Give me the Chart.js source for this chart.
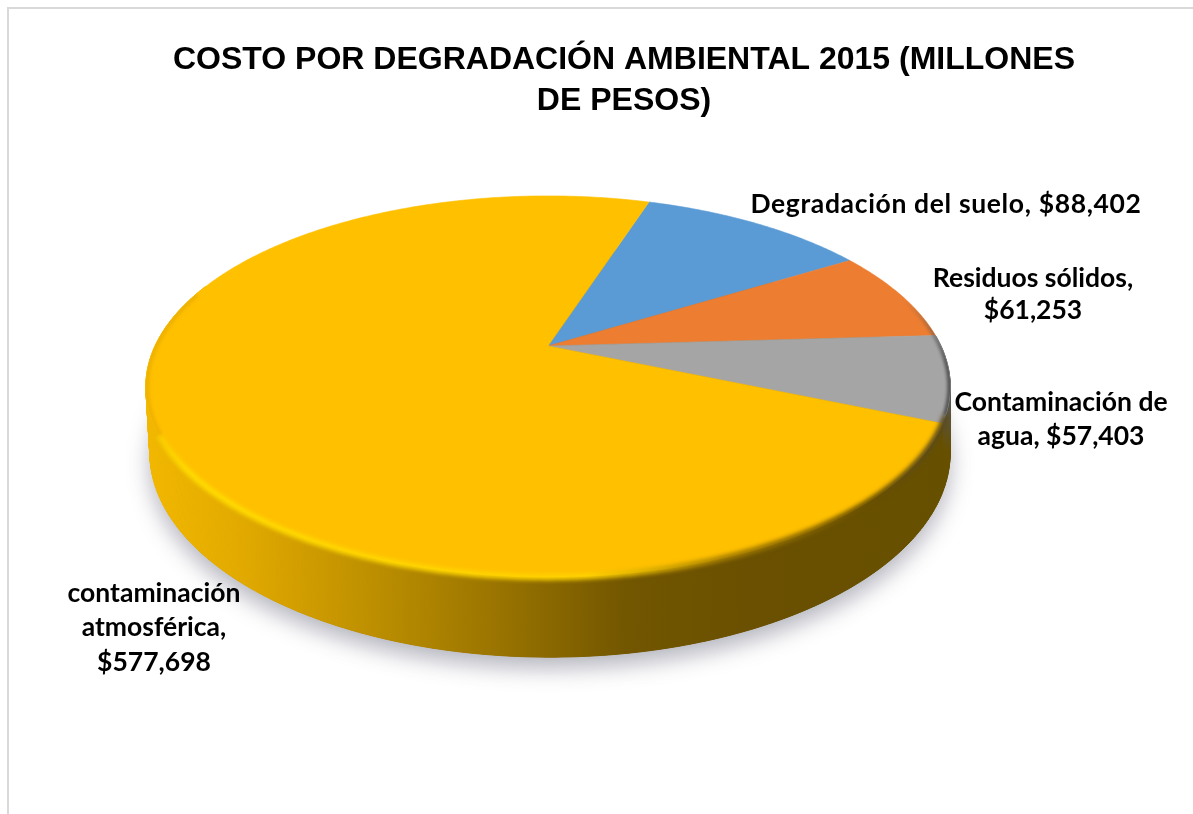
<!DOCTYPE html>
<html lang="es">
<head>
<meta charset="utf-8">
<title>Costo por degradación ambiental 2015</title>
<script src="https://cdn.jsdelivr.net/npm/chart.js@4/dist/chart.umd.min.js"></script>
<style>
  html, body { margin: 0; padding: 0; background: #fff; overflow: hidden; }
  canvas { display: block; }
</style>
</head>
<body>
<canvas id="grafica" width="1193" height="814"></canvas>
<script>
const titleLines = ["COSTO POR DEGRADACIÓN AMBIENTAL 2015 (MILLONES", "DE PESOS)"];
const categories = ["Degradación del suelo", "Residuos sólidos", "Contaminación de agua", "contaminación atmosférica"];
const values = [88402, 61253, 57403, 577698];
const colors = ["#5B9BD5", "#ED7D31", "#A5A5A5", "#FFC000"];

// Tilted-disc projection: the flat disc is seen from above with some perspective.
const disc = { cx: 548, apexY: 346, radius: 393, height: 182, persp: 0.2126, depth: 63, lowerScale: 0.995, lowerShift: 2 };

// Each label: its lines, centre x, the middle y of each line and extra letter spacing.
const fmt = v => "$" + v.toLocaleString("en-US");
const dataLabels = [
  { lines: [categories[0] + ", " + fmt(values[0])], x: 946, y: [204], spacing: 0.65 },
  { lines: ["Residuos sólidos,", fmt(values[1])], x: 1033, y: [278, 310], spacing: 0 },
  { lines: ["Contaminación de", "agua, " + fmt(values[2])], x: 1061, y: [402, 436], spacing: 0 },
  { lines: ["contaminación", "atmosférica,", fmt(values[3])], x: 154, y: [593, 627, 662], spacing: 0 }
];

function topPoint(a) {
  const u = Math.cos(a), v = Math.sin(a), w = 1 - disc.persp * v;
  return { x: disc.cx + disc.radius * u / w, y: disc.apexY + disc.height * v / w, w };
}
function lowerPoint(a) {
  const p = topPoint(a);
  return { x: disc.cx + disc.lowerShift + disc.lowerScale * (p.x - disc.cx), y: p.y + disc.depth / p.w };
}
function traceArc(ctx, fn, a0, a1, connect) {
  const steps = Math.max(2, Math.ceil(Math.abs(a1 - a0) / 0.01));
  for (let i = 0; i <= steps; i++) {
    const p = fn(a0 + (a1 - a0) * i / steps);
    if (i === 0 && !connect) ctx.moveTo(p.x, p.y); else ctx.lineTo(p.x, p.y);
  }
}
function yellowWall(ctx) {
  const g = ctx.createLinearGradient(146, 0, 948, 0);
  g.addColorStop(0.00, "#f2b800");
  g.addColorStop(0.12, "#e2aa00");
  g.addColorStop(0.30, "#b98c00");
  g.addColorStop(0.45, "#977200");
  g.addColorStop(0.60, "#725600");
  g.addColorStop(0.75, "#6a5000");
  g.addColorStop(1.00, "#665000");
  return g;
}
function shadedWall(ctx) {
  const g = ctx.createLinearGradient(0, 400, 0, 450);
  g.addColorStop(0, "#565656");
  g.addColorStop(1, "#665000");
  return g;
}
// The side wall is swept as short strips so its outline follows the disc's envelope.
function drawWall(ctx, a0, a1, fill) {
  ctx.fillStyle = fill;
  ctx.strokeStyle = fill;
  ctx.lineWidth = 1;
  const step = 0.01;
  for (let a = a0; a < a1; a += step) {
    const b = Math.min(a + step, a1);
    if (Math.sin(a) < -0.35 && Math.sin(b) < -0.35) continue;
    const p0 = topPoint(a), p1 = topPoint(b), q1 = lowerPoint(b), q0 = lowerPoint(a);
    ctx.beginPath();
    ctx.moveTo(p0.x, p0.y);
    ctx.lineTo(p1.x, p1.y);
    ctx.lineTo(q1.x, q1.y);
    ctx.lineTo(q0.x, q0.y);
    ctx.closePath();
    ctx.fill();
    ctx.stroke();
  }
}

const discPlugin = {
  id: "discPlugin",
  beforeDatasetDraw(chart) {
    const { ctx } = chart;
    const arcs = chart.getDatasetMeta(0).data;
    const TAU = Math.PI * 2;

    // Soft shadow below the disc.
    ctx.save();
    ctx.shadowColor = "rgba(70,70,95,0.40)";
    ctx.shadowBlur = 22;
    ctx.shadowOffsetY = 11;
    ctx.fillStyle = "#6a5000";
    ctx.beginPath();
    traceArc(ctx, lowerPoint, 0, TAU);
    ctx.closePath();
    ctx.fill();
    ctx.restore();

    // Side wall, slice by slice; only the two slices on the near side show one.
    arcs.forEach((arc, i) => {
      if (i === 2) drawWall(ctx, arc.startAngle, arc.endAngle, shadedWall(ctx));
      if (i === 3) drawWall(ctx, arc.startAngle, arc.endAngle, yellowWall(ctx));
    });

    // Top face.
    arcs.forEach((arc, i) => {
      ctx.beginPath();
      ctx.moveTo(disc.cx, disc.apexY);
      traceArc(ctx, topPoint, arc.startAngle, arc.endAngle, true);
      ctx.closePath();
      ctx.fillStyle = colors[i];
      ctx.fill();
      ctx.strokeStyle = colors[i];
      ctx.lineWidth = 0.6;
      ctx.stroke();
    });

    // Bevelled rim: bright on the lit side, falling into shade on the right.
    ctx.save();
    const rim = ctx.createLinearGradient(146, 0, 948, 0);
    rim.addColorStop(0.00, "#f6c400");
    rim.addColorStop(0.05, "#ffdc00");
    rim.addColorStop(0.55, "#ffd200");
    rim.addColorStop(0.72, "#a67e00");
    rim.addColorStop(0.90, "#6a5000");
    rim.addColorStop(1.00, "#5a4a20");
    ctx.filter = "blur(2px)";
    ctx.strokeStyle = rim;
    ctx.lineWidth = 6;
    ctx.beginPath();
    traceArc(ctx, topPoint, 0.36, 2.68);
    ctx.stroke();
    ctx.restore();

    ctx.save();
    ctx.beginPath();
    traceArc(ctx, topPoint, 0, TAU);
    ctx.closePath();
    ctx.clip();
    ctx.filter = "blur(1.5px)";
    ctx.strokeStyle = "#efb200";
    ctx.lineWidth = 7;
    ctx.beginPath();
    traceArc(ctx, topPoint, 2.68, 3.45);
    ctx.stroke();
    const edge = ctx.createLinearGradient(0, 300, 0, 440);
    edge.addColorStop(0, "rgba(85,85,85,0)");
    edge.addColorStop(0.45, "rgba(75,75,75,0.85)");
    edge.addColorStop(1, "rgba(75,75,75,0.9)");
    ctx.strokeStyle = edge;
    ctx.lineWidth = 6;
    ctx.beginPath();
    traceArc(ctx, topPoint, -0.5, 0.36);
    ctx.stroke();
    ctx.restore();
    return false;
  },
  afterDraw(chart) {
    const { ctx } = chart;
    // Outer frame of the chart: only its top and left edges fall inside the page.
    ctx.save();
    ctx.strokeStyle = "#d9d9d9";
    ctx.lineWidth = 2;
    ctx.beginPath();
    ctx.moveTo(1193, 8);
    ctx.lineTo(8, 8);
    ctx.lineTo(8, 814);
    ctx.stroke();

    ctx.fillStyle = "#000";
    ctx.font = "bold 26.5px Lato, sans-serif";
    ctx.textAlign = "center";
    ctx.textBaseline = "middle";
    dataLabels.forEach(l => {
      ctx.letterSpacing = l.spacing + "px";
      l.lines.forEach((t, i) => ctx.fillText(t, l.x, l.y[i]));
    });
    ctx.restore();
  }
};

new Chart(document.getElementById("grafica"), {
  type: "pie",
  data: {
    labels: categories,
    datasets: [{ data: values, backgroundColor: colors, borderWidth: 0 }]
  },
  options: {
    responsive: false,
    animation: false,
    rotation: 18,
    layout: { padding: { left: 55, top: 0, right: 0, bottom: 0 } },
    plugins: {
      legend: { display: false },
      tooltip: { enabled: false },
      title: {
        display: true,
        text: titleLines,
        color: "#000",
        font: { family: "'Liberation Sans', Arial, sans-serif", size: 32, weight: "bold", lineHeight: 1.28 },
        padding: { top: 40, bottom: 10 }
      }
    }
  },
  plugins: [discPlugin]
});
</script>
</body>
</html>
